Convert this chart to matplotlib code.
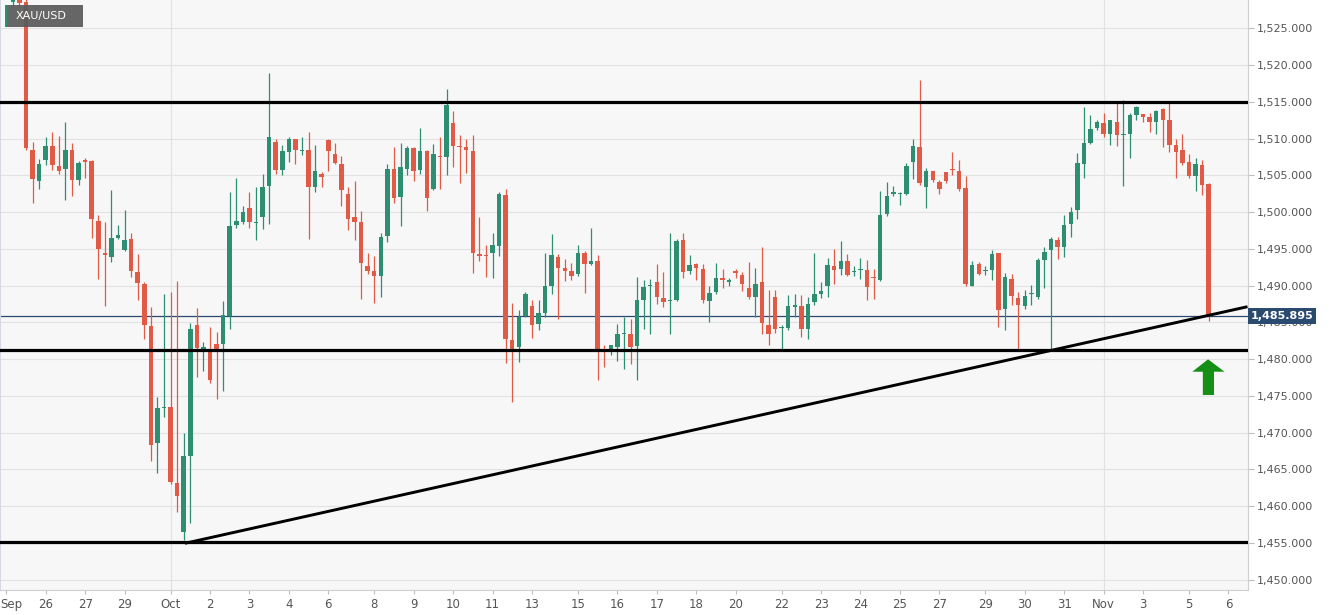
import numpy as np
import matplotlib
matplotlib.use("Agg")
import matplotlib.pyplot as plt
from matplotlib.transforms import blended_transform_factory, ScaledTranslation
from matplotlib.patches import Rectangle, Polygon

# ---------------- data (4H candles, XAU/USD) ----------------
first_index = -2
opens = [1528.6, 1530.5, 1528.6, 1508.4, 1504.3, 1507.05, 1509.0, 1506.3, 1505.9, 1508.4,
         1504.35, 1507.05, 1506.9, 1498.75, 1494.5, 1493.9, 1496.5, 1494.8, 1496.4, 1491.8,
         1490.2, 1484.5, 1468.57, 1473.3, 1473.5, 1463.15, 1456.4, 1466.75, 1484.66, 1481.3,
         1481.2, 1482.07, 1482.0, 1485.8, 1498.2, 1498.6, 1500.6, 1498.55, 1499.4, 1503.5,
         1509.6, 1505.8, 1508.2, 1509.9, 1508.3, 1508.4, 1503.4, 1505.15, 1509.8, 1507.9,
         1506.6, 1502.5, 1499.35, 1498.7, 1492.7, 1492.0, 1491.3, 1496.75, 1505.9, 1502.0,
         1505.9, 1508.7, 1505.7, 1508.35, 1503.1, 1507.65, 1507.45, 1512.1, 1509.0, 1508.9,
         1508.35, 1494.35, 1494.15, 1494.5, 1495.4, 1502.3, 1482.6, 1481.6, 1485.8, 1487.2,
         1484.8, 1486.25, 1489.9, 1493.9, 1492.4, 1492.0, 1491.6, 1494.5, 1492.9, 1493.35,
         1481.4, 1481.4, 1481.6, 1483.4, 1483.35, 1481.75, 1488.1, 1490.0, 1490.5, 1488.3,
         1487.85, 1488.1, 1496.25, 1492.0, 1492.9, 1492.2, 1487.85, 1489.1, 1491.1, 1490.55,
         1492.0, 1491.5, 1489.7, 1488.4, 1490.5, 1484.7, 1488.4, 1484.2, 1484.25, 1487.15,
         1487.2, 1484.1, 1487.75, 1488.8, 1489.9, 1492.65, 1492.3, 1493.3, 1491.9, 1492.1,
         1492.15, 1491.1, 1490.8, 1499.7, 1502.45, 1502.5, 1502.4, 1506.84, 1508.9, 1503.43,
         1505.57, 1504.1, 1505.4, 1505.9, 1505.6, 1503.34, 1490.0, 1492.9, 1492.0, 1492.07,
         1494.4, 1486.84, 1490.9, 1488.34, 1487.2, 1488.8, 1488.43, 1493.5, 1494.9, 1496.25,
         1495.25, 1498.34, 1500.34, 1506.61, 1509.43, 1511.4, 1512.07, 1510.7, 1512.3, 1510.55,
         1510.6, 1513.2, 1513.34, 1512.9, 1512.2, 1514.1, 1512.5, 1509.1, 1508.4, 1506.84,
         1504.9, 1506.4, 1503.8]
highs = [1531.0, 1531.0, 1529.5, 1509.5, 1507.2, 1510.25, 1510.9, 1510.3, 1512.2, 1509.4,
         1506.9, 1507.4, 1507.1, 1499.6, 1498.65, 1503.0, 1498.3, 1500.3, 1497.2, 1494.25,
         1490.5, 1487.1, 1474.8, 1488.8, 1489.1, 1490.6, 1469.9, 1484.9, 1487.0, 1482.3,
         1484.3, 1483.7, 1487.9, 1502.75, 1504.7, 1500.9, 1502.75, 1503.4, 1505.25, 1519.0,
         1510.0, 1509.1, 1510.2, 1510.0, 1510.25, 1510.9, 1509.1, 1505.5, 1510.0, 1509.35,
         1507.6, 1503.4, 1504.2, 1500.2, 1494.4, 1494.0, 1497.1, 1506.6, 1508.8, 1509.4,
         1509.0, 1508.9, 1511.4, 1508.4, 1509.25, 1510.2, 1516.8, 1513.7, 1510.5, 1509.9,
         1510.5, 1499.4, 1495.5, 1497.2, 1502.75, 1503.2, 1487.6, 1486.7, 1489.1, 1488.0,
         1488.1, 1494.4, 1497.0, 1494.3, 1493.6, 1493.1, 1495.5, 1494.7, 1497.85, 1494.1,
         1481.85, 1481.9, 1484.8, 1485.7, 1485.5, 1491.15, 1490.8, 1490.9, 1493.0, 1491.8,
         1497.1, 1496.4, 1497.2, 1494.1, 1493.1, 1493.0, 1489.9, 1493.1, 1492.3, 1491.1,
         1492.3, 1491.85, 1493.2, 1492.4, 1495.2, 1489.35, 1489.35, 1484.6, 1488.7, 1488.9,
         1488.7, 1488.4, 1494.4, 1490.5, 1493.7, 1495.0, 1496.07, 1494.25, 1492.6, 1493.8,
         1493.5, 1492.2, 1502.9, 1504.1, 1503.6, 1502.7, 1506.7, 1510.0, 1518.0, 1506.07,
         1505.6, 1504.34, 1505.5, 1508.2, 1507.16, 1504.9, 1493.4, 1493.2, 1492.6, 1494.8,
         1494.5, 1491.7, 1491.6, 1489.1, 1489.4, 1490.15, 1493.8, 1495.25, 1496.6, 1496.6,
         1499.6, 1500.7, 1508.1, 1514.25, 1513.2, 1512.5, 1513.5, 1512.6, 1514.8, 1515.3,
         1513.5, 1514.4, 1513.4, 1513.5, 1513.9, 1514.2, 1514.8, 1510.0, 1510.7, 1507.9,
         1507.4, 1507.16, 1503.9]
lows = [1528.0, 1527.9, 1508.5, 1501.2, 1503.1, 1506.4, 1505.7, 1505.25, 1501.6, 1502.2,
        1503.75, 1504.7, 1496.5, 1490.9, 1487.2, 1493.2, 1496.4, 1494.7, 1491.2, 1488.1,
        1482.75, 1466.07, 1464.5, 1472.07, 1463.0, 1459.25, 1455.35, 1457.75, 1477.6, 1478.4,
        1476.8, 1474.6, 1475.6, 1484.1, 1497.9, 1498.4, 1497.9, 1496.15, 1497.75, 1498.4,
        1505.2, 1505.0, 1506.8, 1506.5, 1507.75, 1496.4, 1502.8, 1503.4, 1505.6, 1506.5,
        1500.9, 1497.6, 1496.2, 1488.2, 1491.6, 1487.7, 1488.4, 1495.9, 1501.2, 1498.1,
        1505.1, 1504.25, 1505.2, 1500.1, 1503.0, 1503.2, 1505.1, 1506.1, 1504.0, 1505.3,
        1491.75, 1493.3, 1491.2, 1491.1, 1494.0, 1479.4, 1474.1, 1479.6, 1485.7, 1482.9,
        1483.9, 1485.7, 1488.9, 1485.5, 1490.6, 1490.8, 1491.25, 1489.0, 1492.8, 1477.2,
        1478.9, 1480.5, 1479.8, 1478.65, 1479.3, 1477.1, 1484.1, 1483.4, 1487.5, 1487.1,
        1483.4, 1487.9, 1491.1, 1491.6, 1490.7, 1487.6, 1485.0, 1488.8, 1489.7, 1489.9,
        1491.1, 1489.25, 1488.2, 1485.7, 1483.4, 1481.85, 1483.5, 1481.25, 1484.0, 1485.7,
        1483.0, 1482.75, 1487.3, 1488.3, 1488.45, 1490.25, 1491.5, 1491.25, 1491.3, 1490.9,
        1487.98, 1488.2, 1490.6, 1499.5, 1502.16, 1501.0, 1502.3, 1504.57, 1503.66, 1500.6,
        1504.1, 1502.4, 1503.9, 1505.1, 1502.9, 1490.0, 1489.9, 1491.4, 1491.5, 1490.8,
        1484.3, 1483.9, 1487.3, 1481.4, 1486.8, 1487.3, 1488.2, 1489.7, 1481.4, 1493.65,
        1493.9, 1496.6, 1499.1, 1504.7, 1509.3, 1511.2, 1510.16, 1509.2, 1509.0, 1503.5,
        1507.4, 1512.5, 1512.3, 1510.9, 1510.6, 1508.9, 1508.2, 1504.6, 1506.4, 1504.7,
        1502.9, 1502.3, 1485.2]
closes = [1530.0, 1528.4, 1508.75, 1504.5, 1506.5, 1509.0, 1506.4, 1505.55, 1508.5, 1504.35,
          1506.75, 1506.8, 1499.0, 1495.0, 1494.1, 1496.5, 1496.85, 1496.25, 1492.0, 1490.3,
          1484.57, 1468.35, 1473.35, 1473.5, 1463.3, 1461.3, 1466.8, 1484.1, 1481.5, 1481.6,
          1477.2, 1481.25, 1486.0, 1498.1, 1498.8, 1500.0, 1498.65, 1498.6, 1503.4, 1510.25,
          1505.8, 1508.3, 1509.9, 1508.5, 1508.4, 1503.4, 1505.6, 1504.8, 1508.3, 1506.7,
          1503.0, 1499.0, 1498.7, 1493.1, 1492.0, 1491.3, 1496.6, 1505.9, 1501.9, 1506.2,
          1508.75, 1505.6, 1508.35, 1501.9, 1507.85, 1507.5, 1514.6, 1509.0, 1508.9, 1508.4,
          1494.5, 1494.0, 1494.05, 1495.5, 1502.5, 1482.75, 1481.3, 1485.7, 1488.8, 1484.7,
          1486.25, 1489.9, 1494.2, 1492.4, 1492.0, 1491.3, 1494.5, 1492.9, 1493.4, 1481.4,
          1481.2, 1481.85, 1483.35, 1483.5, 1481.6, 1488.1, 1489.8, 1490.1, 1488.5, 1487.75,
          1488.0, 1496.1, 1491.8, 1492.75, 1492.4, 1488.1, 1489.0, 1491.1, 1490.7, 1490.6,
          1491.75, 1490.25, 1488.4, 1490.25, 1484.95, 1483.4, 1484.1, 1484.3, 1487.2, 1487.2,
          1484.1, 1487.45, 1488.8, 1489.25, 1492.85, 1492.07, 1493.3, 1491.5, 1492.0, 1492.2,
          1489.8, 1491.0, 1499.6, 1502.16, 1502.7, 1502.55, 1506.25, 1508.98, 1503.9, 1505.6,
          1504.34, 1503.1, 1504.25, 1505.7, 1503.1, 1490.25, 1492.75, 1491.6, 1492.1, 1494.34,
          1486.7, 1491.16, 1488.57, 1487.3, 1488.57, 1488.9, 1493.43, 1494.57, 1496.3, 1495.25,
          1498.2, 1500.0, 1506.7, 1509.4, 1511.25, 1512.2, 1510.7, 1512.5, 1510.5, 1510.6,
          1513.2, 1514.34, 1512.98, 1512.2, 1513.7, 1512.5, 1509.1, 1508.2, 1506.7, 1504.9,
          1506.5, 1503.7, 1485.895]

tick_positions = [-3, 3, 9, 15, 22, 28, 34, 40, 46, 53, 59, 65, 71, 77, 84, 90, 96, 102,
                  108, 115, 121, 127, 133, 139, 146, 152, 158, 164, 170, 177, 183]
tick_labels = ["Sep", "26", "27", "29", "Oct", "2", "3", "4", "6", "8", "9", "10", "11",
               "13", "15", "16", "17", "18", "20", "22", "23", "24", "25", "27", "29", "30",
               "31", "Nov", "3", "5", "6"]
month_positions = [22, 164]

symbol = "XAU/USD"
last_price = 1485.895
resistance = 1515.03
support = 1481.17
bottom_level = 1455.1
trend_x = [24.2, 185.9]
trend_y = [1454.93, 1487.13]
arrow_x = [179.1, 180.8, 180.8, 182.4, 179.9, 177.5, 179.1]
arrow_y = [1475.11, 1475.11, 1478.28, 1478.28, 1479.97, 1478.28, 1478.28]

# ---------------- figure ----------------
W, H = 1331, 615
fig = plt.figure(figsize=(W / 100, H / 100), dpi=100)
fig.patch.set_facecolor("white")
ax_right_px = 1247.5
ax_bottom_px = 589.5
ax = fig.add_axes([0, 1 - ax_bottom_px / H, ax_right_px / W, ax_bottom_px / H])
ax.set_facecolor("#f7f7f7")
ax.set_xlim(-3.96, 185.9)
ax.set_ylim(1448.64, 1528.87)

o = np.array(opens)
h = np.array(highs)
l = np.array(lows)
c = np.array(closes)
idx = np.arange(first_index, first_index + len(o))

up_col = "#2e8e72"
dn_col = "#e05a46"
cols = np.where(c >= o, up_col, dn_col)

# grid
ax.set_yticks(np.arange(1450, 1526, 5))
ax.yaxis.tick_right()
ax.grid(axis="y", color="#e2e2e2", lw=0.8, zorder=0)
for mp in month_positions:
    ax.axvline(mp, color="#e2e2e2", lw=0.8, zorder=0)

# candles
ax.vlines(idx, l, h, colors=cols, lw=0.9, zorder=3)
body_bottom = np.minimum(o, c)
body_h = np.maximum(np.abs(c - o), 0.15)
ax.bar(idx, body_h, bottom=body_bottom, width=0.68, color=cols, edgecolor="none", zorder=4)

# last price line
ax.axhline(last_price, color="#2b4a70", lw=0.9, zorder=2)

# drawn levels
for lev in (resistance, support, bottom_level):
    ax.axhline(lev, color="black", lw=2.3, zorder=6)
ax.plot(trend_x, trend_y, color="black", lw=2.1, zorder=6, solid_capstyle="butt")

# green arrow
ax.add_patch(Polygon(list(zip(arrow_x, arrow_y)), closed=True, facecolor="#158f15",
                     edgecolor="none", zorder=7))

# axes styling
for s in ("top",):
    ax.spines[s].set_visible(False)
ax.spines["left"].set_color("#d6d6e4")
ax.spines["right"].set_color("#cfcfcf")
ax.spines["bottom"].set_color("#cfcfcf")
ax.set_yticklabels([f"{v:,.3f}" for v in np.arange(1450, 1526, 5)])
ax.tick_params(axis="y", which="both", length=4, width=0.8, color="#bdbdbd",
               labelsize=8, labelcolor="#555555", pad=3, right=True, left=False)
ax.set_xticks(tick_positions)
ax.set_xticklabels(tick_labels)
ax.tick_params(axis="x", length=3, width=0.8, color="#bdbdbd", labelsize=8.5,
               labelcolor="#555555", pad=3)
first_lbl = ax.get_xticklabels()[0]
first_lbl.set_horizontalalignment("left")
first_lbl.set_transform(first_lbl.get_transform() + ScaledTranslation(-6 / 100, 0, fig.dpi_scale_trans))

# last price tag
bt = blended_transform_factory(ax.transAxes, ax.transData)
ax.text(1.0025, last_price, f"{last_price:,.3f}", transform=bt, ha="left", va="center",
        color="white", fontsize=8, fontweight="bold", clip_on=False, zorder=20,
        bbox=dict(boxstyle="square,pad=0.25", fc="#2b4a70", ec="none"))

# legend box
fig.add_artist(Rectangle((5 / W, 1 - 27 / H), 78 / W, 22 / H, transform=fig.transFigure,
                         facecolor="#5a5a5a", alpha=0.92, edgecolor="none", zorder=10))
fig.add_artist(Rectangle((5 / W, 1 - 27 / H), 2.2 / W, 22 / H, transform=fig.transFigure,
                         facecolor=up_col, edgecolor="none", zorder=11))
fig.text(41.5 / W, 1 - 16 / H, symbol, color="white", fontsize=8, ha="center", va="center",
         zorder=12)

fig.savefig("out.png", dpi=100, facecolor="white")
